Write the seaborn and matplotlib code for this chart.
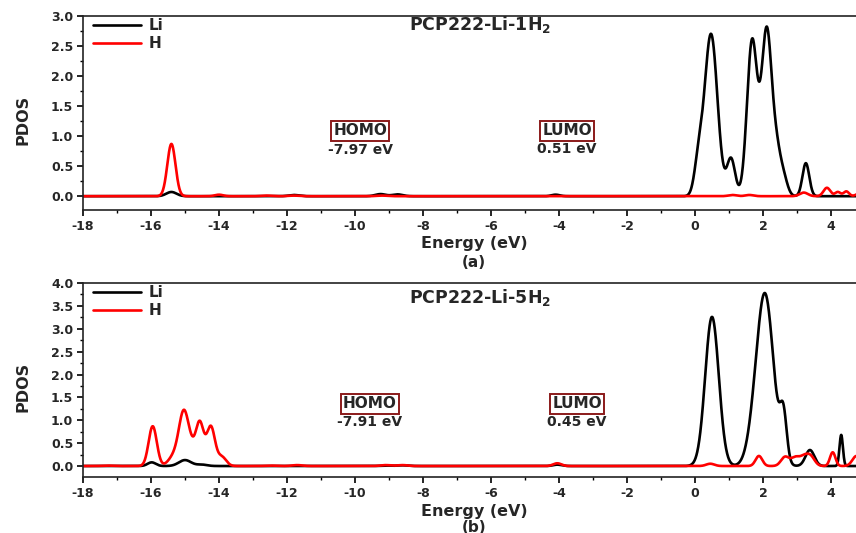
import numpy as np
import pandas as pd
import matplotlib
matplotlib.use("Agg")
import matplotlib.pyplot as plt
import seaborn as sns
from matplotlib.ticker import MultipleLocator

# ---------------------------------------------------------------
# Projected DOS peaks: position (eV), height, Gaussian width (eV)
# ---------------------------------------------------------------
# (a) PCP222-Li-1H2
a_li_pos = [-15.4, -11.8, -9.25, -8.75, -4.1, 0.1, 0.47, 1.06, 1.68, 2.11, 2.4, 2.6, 3.26]
a_li_hgt = [0.07, 0.02, 0.035, 0.03, 0.025, 0.5, 2.7, 0.62, 2.58, 2.75, 0.6, 0.3, 0.55]
a_li_wid = [0.15, 0.15, 0.15, 0.15, 0.12, 0.12, 0.19, 0.12, 0.15, 0.15, 0.12, 0.12, 0.1]

a_h_pos = [-15.4, -14.0, -12.6, -11.8, -9.2, 1.1, 1.6, 3.2, 3.88, 4.2, 4.45, 4.85]
a_h_hgt = [0.87, 0.025, 0.01, 0.01, 0.01, 0.02, 0.02, 0.06, 0.14, 0.07, 0.08, 0.05]
a_h_wid = [0.12, 0.12, 0.15, 0.15, 0.15, 0.12, 0.12, 0.12, 0.1, 0.08, 0.08, 0.1]

# (b) PCP222-Li-5H2
b_li_pos = [-15.98, -15.0, -14.5, -9.1, -8.6, -4.05, 0.5, 1.7, 2.06, 2.6, 3.38, 4.3]
b_li_hgt = [0.08, 0.13, 0.03, 0.01, 0.015, 0.03, 3.26, 0.3, 3.72, 1.0, 0.35, 0.68]
b_li_wid = [0.12, 0.18, 0.15, 0.15, 0.15, 0.12, 0.2, 0.2, 0.25, 0.1, 0.13, 0.05]

b_h_pos = [-17.3, -15.95, -15.35, -15.03, -14.8, -14.57, -14.24, -13.92, -12.5, -11.7,
           -9.1, -8.6, -4.05, 0.45, 1.88, 2.65, 2.95, 3.2, 3.4, 4.05, 4.75]
b_h_hgt = [0.01, 0.87, 0.18, 1.2, 0.15, 0.95, 0.85, 0.2, 0.01, 0.02,
           0.02, 0.02, 0.06, 0.05, 0.22, 0.2, 0.18, 0.18, 0.2, 0.3, 0.22]
b_h_wid = [0.15, 0.12, 0.15, 0.15, 0.1, 0.12, 0.12, 0.13, 0.15, 0.15,
           0.15, 0.15, 0.12, 0.12, 0.1, 0.12, 0.12, 0.12, 0.12, 0.08, 0.12]

panel_titles = ["PCP222-Li-1H$_\\mathbf{2}$", "PCP222-Li-5H$_\\mathbf{2}$"]
panel_tags = ["(a)", "(b)"]
homo_values = ["-7.97 eV", "-7.91 eV"]
lumo_values = ["0.51 eV", "0.45 eV"]
atoms = ["Li", "H"]
atom_colors = {"Li": "black", "H": "red"}

energy = np.linspace(-18.0, 5.0, 4601)


def broadened(pos, hgt, wid):
    """Gaussian-broadened DOS on the energy grid."""
    p = np.asarray(pos)[:, None]
    h = np.asarray(hgt)[:, None]
    w = np.asarray(wid)[:, None]
    return (h * np.exp(-((energy[None, :] - p) ** 2) / (2 * w ** 2))).sum(axis=0)


def panel_frame(li, h):
    return pd.concat([
        pd.DataFrame({"Energy": energy, "PDOS": broadened(*li), "Atom": "Li"}),
        pd.DataFrame({"Energy": energy, "PDOS": broadened(*h), "Atom": "H"}),
    ], ignore_index=True)


frames = [
    panel_frame((a_li_pos, a_li_hgt, a_li_wid), (a_h_pos, a_h_hgt, a_h_wid)),
    panel_frame((b_li_pos, b_li_hgt, b_li_wid), (b_h_pos, b_h_hgt, b_h_wid)),
]

sns.set_style("ticks")
plt.rcParams["font.family"] = ["DejaVu Sans"]
plt.rcParams["font.weight"] = "bold"
plt.rcParams["axes.unicode_minus"] = False
plt.rcParams["mathtext.default"] = "bf"

fig = plt.figure(figsize=(8.56, 5.33), dpi=100)
W, H = 856.0, 533.0
ax_left = 83 / W
ax_width = (865 - 83) / W
positions = [
    [ax_left, (H - 210) / H, ax_width, 194 / H],
    [ax_left, (H - 477) / H, ax_width, 194 / H],
]
ylims = [(-0.23, 3.0), (-0.24, 4.0)]
ytop = [3.0, 4.0]
title_y = [0.954, 0.923]
homo_xy = [(-9.85, 1.09, 0.77), (-9.56, 1.36, 0.96)]
lumo_xy = [(-3.76, 1.09, 0.79), (-3.47, 1.36, 0.96)]
tag_y = [-0.27, -0.258]
xlabel_y = [-0.135, -0.138]
legend_y = [0.99, 0.99]

for i, df in enumerate(frames):
    ax = fig.add_axes(positions[i])
    sns.lineplot(data=df, x="Energy", y="PDOS", hue="Atom", hue_order=atoms,
                 palette=atom_colors, linewidth=1.9, ax=ax, estimator=None,
                 sort=False)
    ax.set_xlim(-18, 5)
    ax.set_ylim(*ylims[i])
    ax.xaxis.set_major_locator(MultipleLocator(2))
    ax.xaxis.set_minor_locator(MultipleLocator(1))
    ax.yaxis.set_major_locator(MultipleLocator(0.5))
    ax.yaxis.set_minor_locator(MultipleLocator(0.25))
    ax.set_yticks(np.arange(0, ytop[i] + 0.01, 0.5))
    ax.tick_params(axis="both", which="major", direction="out", length=4.5,
                   width=1.2, labelsize=9, pad=2.5, color="black")
    ax.tick_params(axis="both", which="minor", direction="out", length=2.5,
                   width=1.0, color="black")
    ax.tick_params(axis="x", which="major", pad=3)
    ax.set_yticklabels([f"{v:.1f}" for v in np.arange(0, ytop[i] + 0.01, 0.5)])
    for lab in ax.get_xticklabels() + ax.get_yticklabels():
        lab.set_fontweight("bold")
    for side in ["left", "bottom", "top", "right"]:
        ax.spines[side].set_linewidth(1.2)
        ax.spines[side].set_color("#222222")

    ax.set_xlabel("Energy (eV)", fontsize=11.5, fontweight="bold")
    ax.xaxis.set_label_coords(0.5, xlabel_y[i])
    ax.set_ylabel("PDOS", fontsize=11.5, fontweight="bold")
    ax.yaxis.label.set_verticalalignment("center")
    ax.yaxis.set_label_coords(-0.077, 0.464)

    ax.text(0.5, tag_y[i], panel_tags[i], transform=ax.transAxes, ha="center",
            va="center", fontsize=11, fontweight="bold")
    ax.text(0.508, title_y[i], panel_titles[i], transform=ax.transAxes,
            ha="center", va="center", fontsize=12.5, fontweight="bold")

    box = dict(boxstyle="square,pad=0.15", facecolor="white",
               edgecolor="#8b1a1a", linewidth=1.4)
    hx, hy, vy = homo_xy[i]
    ax.text(hx, hy, "HOMO", ha="center", va="center", fontsize=11,
            fontweight="bold", bbox=box)
    ax.text(hx, vy, homo_values[i], ha="center", va="center", fontsize=10,
            fontweight="bold")
    lx, ly, lvy = lumo_xy[i]
    ax.text(lx, ly, "LUMO", ha="center", va="center", fontsize=11,
            fontweight="bold", bbox=box)
    ax.text(lx, lvy, lumo_values[i], ha="center", va="center", fontsize=10,
            fontweight="bold")

    handles, labels = ax.get_legend_handles_labels()
    leg = ax.legend(handles, labels, loc="upper left",
                    bbox_to_anchor=(0.013, legend_y[i]), frameon=False,
                    fontsize=11, handlelength=3.1, handletextpad=0.5,
                    labelspacing=0.2, borderpad=0, borderaxespad=0)
    for t in leg.get_texts():
        t.set_fontweight("bold")
    for ln in leg.get_lines():
        ln.set_linewidth(1.9)

fig.savefig("out.png", dpi=100)
